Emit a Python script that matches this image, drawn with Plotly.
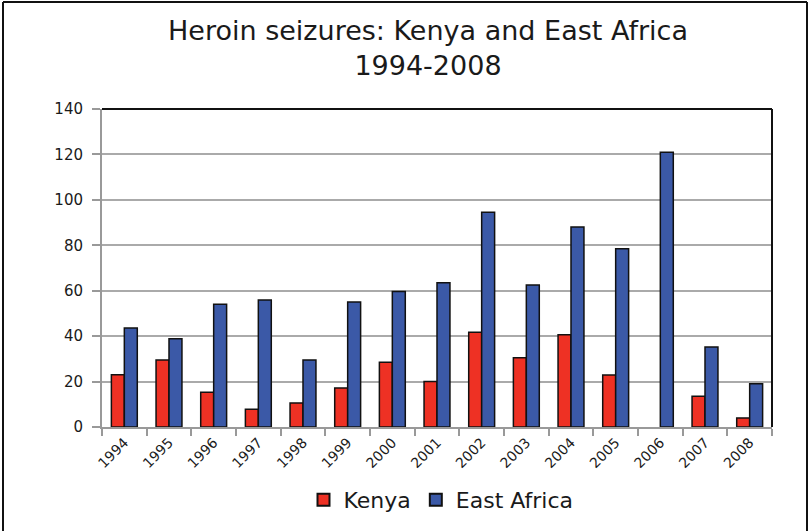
import plotly.graph_objects as go

years = ["1994", "1995", "1996", "1997", "1998", "1999", "2000", "2001",
         "2002", "2003", "2004", "2005", "2006", "2007", "2008"]
kenya = [23, 29.5, 15.3, 7.8, 10.6, 17.2, 28.5, 20, 41.7, 30.5, 40.6, 22.9, None, 13.5, 4]
east_africa = [43.6, 38.9, 54.0, 55.9, 29.5, 55.0, 59.7, 63.5, 94.5, 62.5, 88, 78.5, 121, 35.2, 19]

FONT = "DejaVu Sans"
TXT = "#1a1a1a"
W, H = 810, 531
L, R, T, B = 102, 38, 109, 104
pw, ph = W - L - R, H - T - B

def px(x):  # screen x -> paper
    return (x - L) / pw

def py(y):  # screen y -> paper
    return (H - B - y) / ph

fig = go.Figure()
fig.add_trace(go.Bar(x=years, y=kenya, name="Kenya",
                     marker=dict(color="#EE3124", line=dict(color="#111111", width=1.5))))
fig.add_trace(go.Bar(x=years, y=east_africa, name="East Africa",
                     marker=dict(color="#3B59A7", line=dict(color="#111111", width=1.5))))

fig.update_layout(
    width=W, height=H,
    margin=dict(l=L, r=R, t=T, b=B, autoexpand=False),
    paper_bgcolor="white", plot_bgcolor="white",
    barmode="group", bargap=0.42, bargroupgap=0,
    font=dict(family=FONT, color=TXT),
    title=dict(text="Heroin seizures: Kenya and East Africa<br>1994-2008",
               x=428 / W, xanchor="center", y=1 - 40 / H, yanchor="top",
               font=dict(size=27, family=FONT, color=TXT)),
    showlegend=True,
    legend=dict(orientation="h", x=px(441), xanchor="center", y=py(500), yanchor="middle",
                font=dict(size=22, family=FONT, color=TXT),
                itemsizing="constant", traceorder="normal"),
    xaxis=dict(type="category", tickson="boundaries", ticks="outside", ticklen=7,
               tickcolor="#999999", tickwidth=1.5, showline=True, linecolor="#999999", linewidth=2,
               tickangle=-45, tickfont=dict(size=14, family=FONT, color=TXT),
               showgrid=False, mirror=False, automargin=False),
    yaxis=dict(range=[0, 140], dtick=20, ticks="outside", ticklen=8, tickcolor="#999999",
               tickwidth=1.5, showline=True, linecolor="#999999", linewidth=2,
               showgrid=True, gridcolor="#aaaaaa", gridwidth=1.5, ticklabelstandoff=6,
               tickfont=dict(size=15, family=FONT, color=TXT), zeroline=False, automargin=False),
)

# plot frame: black top and right edges
fig.add_shape(type="line", xref="paper", yref="paper", x0=0, x1=1, y0=1, y1=1,
              line=dict(color="#111111", width=2))
fig.add_shape(type="line", xref="paper", yref="paper", x0=1, x1=1, y0=0, y1=1,
              line=dict(color="#111111", width=2))
# outer border of the figure
fig.add_shape(type="line", xref="paper", yref="paper", x0=px(3), x1=px(3), y0=py(545), y1=py(2),
              line=dict(color="#111111", width=2))
fig.add_shape(type="line", xref="paper", yref="paper", x0=px(3), x1=px(807), y0=py(2), y1=py(2),
              line=dict(color="#111111", width=2))
fig.add_shape(type="line", xref="paper", yref="paper", x0=px(807), x1=px(807), y0=py(545), y1=py(2),
              line=dict(color="#111111", width=2))

fig.write_html("out.html", config={"displayModeBar": False},
               post_script="document.body.style.margin='0px';")
